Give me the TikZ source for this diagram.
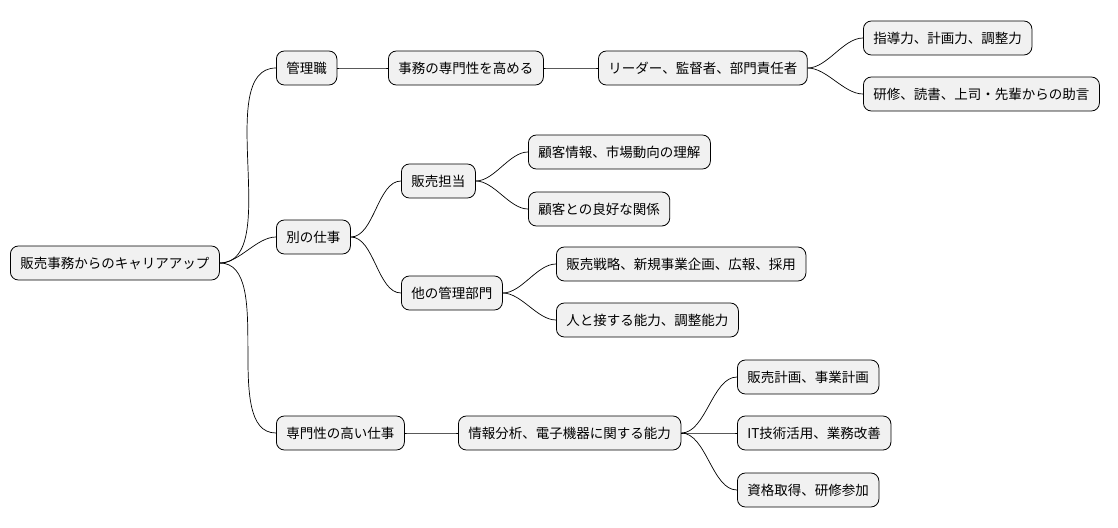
\documentclass[tikz,border=0pt]{standalone}
\usepackage{fontspec}
\setmainfont{Noto Sans CJK JP}
\begin{document}
\begin{tikzpicture}[x=1pt,y=-1pt,
  box/.style={draw=black,line width=0.8pt,fill={rgb,255:red,241;green,241;blue,241},rounded corners=8pt,
    minimum height=34pt,inner xsep=10pt,font=\fontsize{13.5}{14}\selectfont,anchor=west},
  link/.style={draw=black,line width=0.7pt}]
\useasboundingbox (0,0) rectangle (1118,527);
\node[box] (r) at (10,263) {販売事務からのキャリアアップ};
\node[box] (a) at (276,68) {管理職};
\node[box] (a1) at (388,68) {事務の専門性を高める};
\node[box] (a2) at (598,68) {リーダー、監督者、部門責任者};
\node[box] (a3) at (863,38) {指導力、計画力、調整力};
\node[box] (a4) at (863,94) {研修、読書、上司・先輩からの助言};
\node[box] (b) at (276,237) {別の仕事};
\node[box] (b1) at (401,181) {販売担当};
\node[box] (b11) at (528,152) {顧客情報、市場動向の理解};
\node[box] (b12) at (528,209) {顧客との良好な関係};
\node[box] (b2) at (401,293) {他の管理部門};
\node[box] (b21) at (556,264) {販売戦略、新規事業企画、広報、採用};
\node[box] (b22) at (556,320) {人と接する能力、調整能力};
\node[box] (c) at (276,433) {専門性の高い仕事};
\node[box] (c1) at (458,433) {情報分析、電子機器に関する能力};
\node[box] (c11) at (737,377) {販売計画、事業計画};
\node[box] (c12) at (737,433) {IT技術活用、業務改善};
\node[box] (c13) at (737,490) {資格取得、研修参加};
\foreach \p/\c in {r/a,r/b,r/c,a/a1,a1/a2,a2/a3,a2/a4,b/b1,b/b2,b1/b11,b1/b12,b2/b21,b2/b22,c/c1,c1/c11,c1/c12,c1/c13}
  \draw[link] (\p.east) to[out=0,in=180,looseness=0.8] (\c.west);
\end{tikzpicture}
\end{document}
